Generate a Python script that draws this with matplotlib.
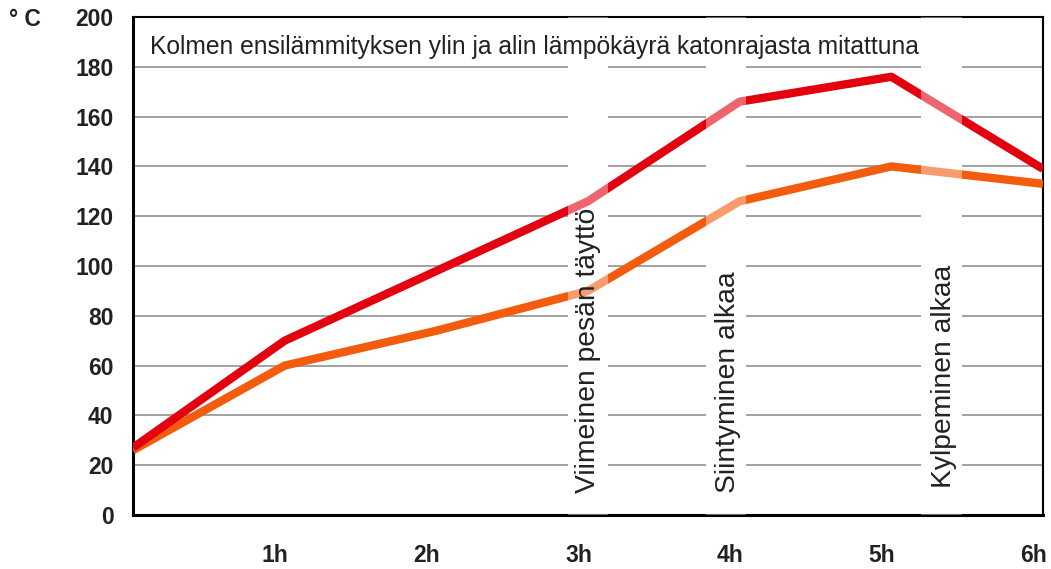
import matplotlib.pyplot as plt
import matplotlib.transforms as mtransforms
import numpy as np

plt.rcParams['font.family'] = ['Liberation Sans', 'DejaVu Sans']

# mittaustunnit ja lampotilat (astetta C)
hours = [0, 1, 2, 3, 4, 5, 6]
hour_labels = ["", "1h", "2h", "3h", "4h", "5h", "6h"]
temp_high = [27, 70, 98, 126, 166, 176, 139]
temp_low = [26, 60, 74, 90, 126, 140, 133]
y_ticks = [0, 20, 40, 60, 80, 100, 120, 140, 160, 180, 200]

title = "Kolmen ensilämmityksen ylin ja alin lämpökäyrä katonrajasta mitattuna"
events = ["Viimeinen pesän täyttö", "Siintyminen alkaa", "Kylpeminen alkaa"]

# tekstisarakkeiden paikat ja leveydet (tunteina)
event_x = [3.0, 3.92, 5.35]
event_y = [9, 9, 11]
band_x = [3.0, 3.91, 5.33]
band_w = 0.27

red = "#e3000f"
orange = "#f25c0c"

fig = plt.figure(figsize=(10.51, 5.69), dpi=100)
ax = fig.add_axes([0.1265, 0.0949, 0.8659, 0.8752])
ax.set_xlim(0, 6)
ax.set_ylim(0, 200)

# vaakaviivat
for y in y_ticks[1:-1]:
    ax.axhline(y, color="#9a9a9a", lw=1.3, zorder=1)

# valkoiset sarakkeet tekstien alle
for bx in band_x:
    ax.axvspan(bx - band_w / 2, bx + band_w / 2, color="white", zorder=2, lw=0)

ax.plot(hours, temp_low, color=orange, lw=6, solid_capstyle="butt", zorder=3)
ax.plot(hours, temp_high, color=red, lw=6, solid_capstyle="butt", zorder=4)

# kayrat vaaleampina sarakkeiden kohdalla
for bx in band_x:
    ax.axvspan(bx - band_w / 2, bx + band_w / 2, color="white", alpha=0.4,
               zorder=5, lw=0)

for ex, ey, txt in zip(event_x, event_y, events):
    ax.text(ex, ey, txt, rotation=90, ha="center", va="bottom", fontsize=20.3,
            color="#222222", zorder=6)

ax.text(0.11, 188, title, fontsize=17.7, color="#222222", va="center", zorder=6)

ax.set_yticks(y_ticks)
ax.set_yticklabels([str(v) for v in y_ticks], fontsize=16.5, fontweight="bold",
                   color="#222222")
ax.set_xticks(hours)
ax.set_xticklabels(hour_labels, fontsize=16.5, fontweight="bold", color="#222222",
                   ha="right")
ax.tick_params(axis="y", length=0, pad=14)
ax.tick_params(axis="x", length=0, pad=21)

# tuntimerkinnat hieman oikealle
shift = mtransforms.ScaledTranslation(4 / 100, 0, fig.dpi_scale_trans)
for lbl in ax.get_xticklabels():
    lbl.set_transform(lbl.get_transform() + shift)

ax.spines["left"].set_linewidth(2.2)
ax.spines["bottom"].set_linewidth(2.2)
ax.spines["top"].set_linewidth(1.5)
ax.spines["right"].set_linewidth(1.5)

fig.text(0.009, 0.965, "° C", fontsize=16.5, fontweight="bold", color="#222222",
         va="center")

fig.savefig("out.png", dpi=100)
